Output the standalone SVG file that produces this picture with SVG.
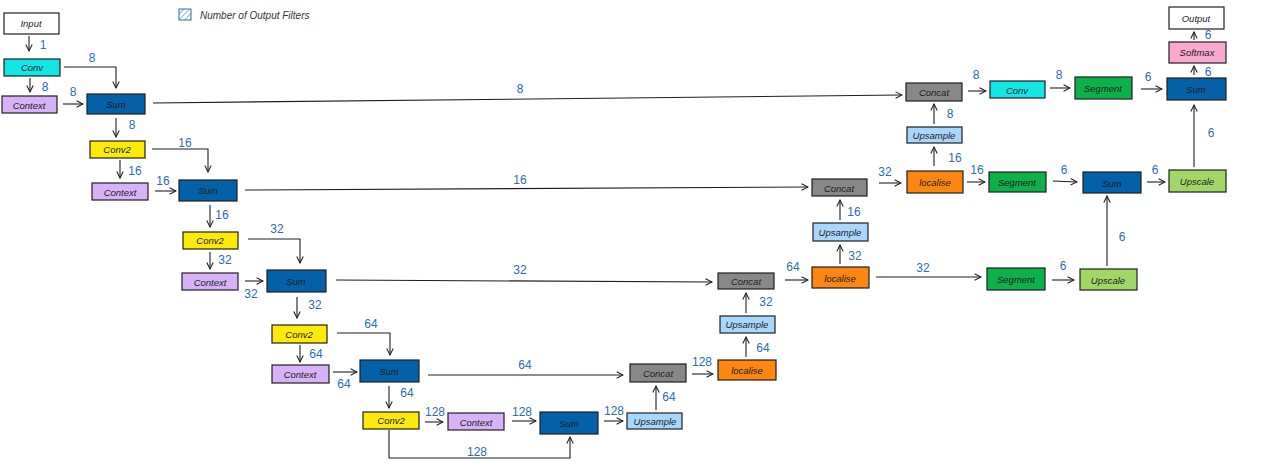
<svg xmlns="http://www.w3.org/2000/svg" width="1267" height="470" viewBox="0 0 1267 470">
<style>
.n{stroke:#1e1e1e;stroke-width:1.2}
.t{font-family:"Liberation Sans",Arial,sans-serif;font-style:italic;font-size:9.5px;fill:#1e1e1e;text-anchor:middle;dominant-baseline:central}
.l{font-family:"Liberation Sans",Arial,sans-serif;font-size:12px;fill:#2d6bb3;text-anchor:middle;dominant-baseline:central}
.c{fill:none;stroke:#1e1e1e;stroke-width:1.1}
.white{fill:#ffffff}.cyan{fill:#14e6e6}.purple{fill:#d7b2f7}.blue{fill:#0461a8}.yellow{fill:#fbea0a}.gray{fill:#888888}.lblue{fill:#a9d6fb}.orange{fill:#fb8612}.green{fill:#0db14b}.lgreen{fill:#a2d767}.pink{fill:#f9a8d0}
</style>
<defs>
<marker id="a" viewBox="0 0 10 10" refX="9" refY="5" markerWidth="8" markerHeight="8" orient="auto" markerUnits="userSpaceOnUse">
<path d="M1,1 L9,5 L1,9" fill="none" stroke="#1e1e1e" stroke-width="1.3"/>
</marker>
<pattern id="h" width="4" height="4" patternUnits="userSpaceOnUse" patternTransform="rotate(45)">
<line x1="0" y1="0" x2="0" y2="4" stroke="#2d6bb3" stroke-width="1"/>
</pattern>
</defs>
<rect width="1267" height="470" fill="#ffffff"/>
<g id="legend">
<rect x="179" y="9" width="12" height="11" fill="url(#h)" stroke="#2d6bb3" stroke-width="1"/>
<text x="200" y="15" font-family="Liberation Sans,Arial,sans-serif" font-style="italic" font-size="10" fill="#333" dominant-baseline="central">Number of Output Filters</text>
</g>
<g id="connectors">
<path class="c" d="M29,36 L29,51" marker-end="url(#a)"/>
<path class="c" d="M30,78 L30,92" marker-end="url(#a)"/>
<path class="c" d="M64,67 L116,67 L116,88" marker-end="url(#a)"/>
<path class="c" d="M63,104 L83,104" marker-end="url(#a)"/>
<path class="c" d="M153,103 L902,95" marker-end="url(#a)"/>
<path class="c" d="M116,118 L116,137" marker-end="url(#a)"/>
<path class="c" d="M152,149 L208,149 L208,172" marker-end="url(#a)"/>
<path class="c" d="M120,160 L120,178" marker-end="url(#a)"/>
<path class="c" d="M155,191 L176,191" marker-end="url(#a)"/>
<path class="c" d="M245,190 L808,187" marker-end="url(#a)"/>
<path class="c" d="M210,205 L210,227" marker-end="url(#a)"/>
<path class="c" d="M248,239 L300,239 L300,263" marker-end="url(#a)"/>
<path class="c" d="M210,252 L210,269" marker-end="url(#a)"/>
<path class="c" d="M245,281 L263,281" marker-end="url(#a)"/>
<path class="c" d="M336,280 L712,282" marker-end="url(#a)"/>
<path class="c" d="M297,297 L297,318" marker-end="url(#a)"/>
<path class="c" d="M337,333 L390,333 L390,355" marker-end="url(#a)"/>
<path class="c" d="M300,345 L300,362" marker-end="url(#a)"/>
<path class="c" d="M333,372 L357,372" marker-end="url(#a)"/>
<path class="c" d="M428,375 L623,375" marker-end="url(#a)"/>
<path class="c" d="M389,386 L389,408" marker-end="url(#a)"/>
<path class="c" d="M425,422 L443,422" marker-end="url(#a)"/>
<path class="c" d="M512,421 L536,421" marker-end="url(#a)"/>
<path class="c" d="M389,430 L389,458 L570,458 L570,437" marker-end="url(#a)"/>
<path class="c" d="M604,421 L623,421" marker-end="url(#a)"/>
<path class="c" d="M656,410 L656,386" marker-end="url(#a)"/>
<path class="c" d="M692,374 L713,374" marker-end="url(#a)"/>
<path class="c" d="M746,357 L746,337" marker-end="url(#a)"/>
<path class="c" d="M746,313 L746,293" marker-end="url(#a)"/>
<path class="c" d="M785,280 L808,280" marker-end="url(#a)"/>
<path class="c" d="M876,277 L981,277" marker-end="url(#a)"/>
<path class="c" d="M840,264 L840,245" marker-end="url(#a)"/>
<path class="c" d="M840,220 L840,200" marker-end="url(#a)"/>
<path class="c" d="M879,183 L901,183" marker-end="url(#a)"/>
<path class="c" d="M967,182 L985,182" marker-end="url(#a)"/>
<path class="c" d="M934,166 L934,147" marker-end="url(#a)"/>
<path class="c" d="M934,124 L934,104" marker-end="url(#a)"/>
<path class="c" d="M968,91 L986,91" marker-end="url(#a)"/>
<path class="c" d="M1050,88 L1070,88" marker-end="url(#a)"/>
<path class="c" d="M1141,89 L1162,89" marker-end="url(#a)"/>
<path class="c" d="M1053,181 L1077,182" marker-end="url(#a)"/>
<path class="c" d="M1147,182 L1165,182" marker-end="url(#a)"/>
<path class="c" d="M1194,167 L1194,105" marker-end="url(#a)"/>
<path class="c" d="M1194,75 L1194,66" marker-end="url(#a)"/>
<path class="c" d="M1194,40 L1194,32" marker-end="url(#a)"/>
<path class="c" d="M1052,280 L1074,280" marker-end="url(#a)"/>
<path class="c" d="M1107,266 L1107,196" marker-end="url(#a)"/>
<text class="l" x="43" y="45">1</text>
<text class="l" x="45" y="87">8</text>
<text class="l" x="92" y="58">8</text>
<text class="l" x="73" y="92">8</text>
<text class="l" x="520" y="89">8</text>
<text class="l" x="132" y="125">8</text>
<text class="l" x="185" y="143">16</text>
<text class="l" x="135" y="171">16</text>
<text class="l" x="163" y="181">16</text>
<text class="l" x="520" y="180">16</text>
<text class="l" x="222" y="215">16</text>
<text class="l" x="277" y="229">32</text>
<text class="l" x="225" y="260">32</text>
<text class="l" x="251" y="294">32</text>
<text class="l" x="520" y="270">32</text>
<text class="l" x="315" y="305">32</text>
<text class="l" x="371" y="324">64</text>
<text class="l" x="316" y="354">64</text>
<text class="l" x="344" y="384">64</text>
<text class="l" x="525" y="365">64</text>
<text class="l" x="407" y="393">64</text>
<text class="l" x="435" y="412">128</text>
<text class="l" x="522" y="412">128</text>
<text class="l" x="477" y="452">128</text>
<text class="l" x="614" y="411">128</text>
<text class="l" x="669" y="397">64</text>
<text class="l" x="702" y="362">128</text>
<text class="l" x="763" y="348">64</text>
<text class="l" x="766" y="302">32</text>
<text class="l" x="793" y="267">64</text>
<text class="l" x="923" y="268">32</text>
<text class="l" x="855" y="256">32</text>
<text class="l" x="854" y="212">16</text>
<text class="l" x="885" y="172">32</text>
<text class="l" x="977" y="170">16</text>
<text class="l" x="955" y="158">16</text>
<text class="l" x="950" y="114">8</text>
<text class="l" x="976" y="75">8</text>
<text class="l" x="1059" y="75">8</text>
<text class="l" x="1148" y="77">6</text>
<text class="l" x="1064" y="170">6</text>
<text class="l" x="1155" y="170">6</text>
<text class="l" x="1211" y="133">6</text>
<text class="l" x="1208" y="72">6</text>
<text class="l" x="1208" y="35">6</text>
<text class="l" x="1063" y="266">6</text>
<text class="l" x="1122" y="237">6</text>
</g>
<g id="input"><rect class="n white" x="4" y="13" width="55" height="21"/><text class="t" x="31" y="23">Input</text></g>
<g id="conv1"><rect class="n cyan" x="4" y="59" width="56" height="17"/><text class="t" x="32" y="67">Conv</text></g>
<g id="context1"><rect class="n purple" x="2" y="96" width="55" height="17"/><text class="t" x="29" y="105">Context</text></g>
<g id="sum1"><rect class="n blue" x="87" y="94" width="58" height="20"/><text class="t" x="116" y="104">Sum</text></g>
<g id="conv2a"><rect class="n yellow" x="90" y="141" width="55" height="17"/><text class="t" x="117" y="149">Conv2</text></g>
<g id="context2"><rect class="n purple" x="92" y="183" width="56" height="17"/><text class="t" x="120" y="192">Context</text></g>
<g id="sum2"><rect class="n blue" x="179" y="180" width="58" height="21"/><text class="t" x="208" y="190">Sum</text></g>
<g id="conv2b"><rect class="n yellow" x="183" y="232" width="55" height="17"/><text class="t" x="210" y="240">Conv2</text></g>
<g id="context3"><rect class="n purple" x="182" y="273" width="56" height="17"/><text class="t" x="210" y="282">Context</text></g>
<g id="sum3"><rect class="n blue" x="267" y="270" width="59" height="22"/><text class="t" x="296" y="281">Sum</text></g>
<g id="conv2c"><rect class="n yellow" x="272" y="325" width="55" height="18"/><text class="t" x="299" y="334">Conv2</text></g>
<g id="context4"><rect class="n purple" x="272" y="365" width="57" height="18"/><text class="t" x="300" y="374">Context</text></g>
<g id="sum4"><rect class="n blue" x="360" y="360" width="59" height="22"/><text class="t" x="389" y="371">Sum</text></g>
<g id="conv2d"><rect class="n yellow" x="363" y="412" width="56" height="17"/><text class="t" x="391" y="420">Conv2</text></g>
<g id="context5"><rect class="n purple" x="448" y="413" width="56" height="17"/><text class="t" x="476" y="422">Context</text></g>
<g id="sum5"><rect class="n blue" x="540" y="412" width="58" height="22"/><text class="t" x="569" y="423">Sum</text></g>
<g id="upsample1"><rect class="n lblue" x="627" y="413" width="55" height="16"/><text class="t" x="655" y="421">Upsample</text></g>
<g id="concat1"><rect class="n gray" x="630" y="364" width="56" height="18"/><text class="t" x="658" y="373">Concat</text></g>
<g id="localise1"><rect class="n orange" x="718" y="360" width="58" height="20"/><text class="t" x="747" y="370">localise</text></g>
<g id="upsample2"><rect class="n lblue" x="720" y="316" width="55" height="17"/><text class="t" x="747" y="324">Upsample</text></g>
<g id="concat2"><rect class="n gray" x="718" y="273" width="56" height="16"/><text class="t" x="746" y="281">Concat</text></g>
<g id="localise2"><rect class="n orange" x="812" y="267" width="57" height="21"/><text class="t" x="840" y="278">localise</text></g>
<g id="upsample3"><rect class="n lblue" x="813" y="223" width="55" height="18"/><text class="t" x="840" y="232">Upsample</text></g>
<g id="concat3"><rect class="n gray" x="812" y="179" width="55" height="17"/><text class="t" x="839" y="188">Concat</text></g>
<g id="localise3"><rect class="n orange" x="907" y="171" width="56" height="22"/><text class="t" x="935" y="182">localise</text></g>
<g id="upsample4"><rect class="n lblue" x="907" y="127" width="55" height="16"/><text class="t" x="934" y="135">Upsample</text></g>
<g id="concat4"><rect class="n gray" x="906" y="83" width="56" height="18"/><text class="t" x="934" y="92">Concat</text></g>
<g id="conv3"><rect class="n cyan" x="990" y="81" width="55" height="17"/><text class="t" x="1017" y="90">Conv</text></g>
<g id="segment1"><rect class="n green" x="1075" y="77" width="57" height="22"/><text class="t" x="1103" y="88">Segment</text></g>
<g id="sum6"><rect class="n blue" x="1167" y="78" width="59" height="22"/><text class="t" x="1196" y="89">Sum</text></g>
<g id="softmax"><rect class="n pink" x="1169" y="42" width="57" height="21"/><text class="t" x="1197" y="52">Softmax</text></g>
<g id="output"><rect class="n white" x="1169" y="7" width="55" height="22"/><text class="t" x="1196" y="18">Output</text></g>
<g id="segment2"><rect class="n green" x="989" y="172" width="57" height="20"/><text class="t" x="1017" y="182">Segment</text></g>
<g id="sum7"><rect class="n blue" x="1083" y="172" width="58" height="21"/><text class="t" x="1112" y="183">Sum</text></g>
<g id="upscale1"><rect class="n lgreen" x="1169" y="170" width="57" height="22"/><text class="t" x="1197" y="181">Upscale</text></g>
<g id="segment3"><rect class="n green" x="987" y="268" width="58" height="22"/><text class="t" x="1016" y="279">Segment</text></g>
<g id="upscale2"><rect class="n lgreen" x="1080" y="269" width="57" height="21"/><text class="t" x="1108" y="280">Upscale</text></g>
</svg>
